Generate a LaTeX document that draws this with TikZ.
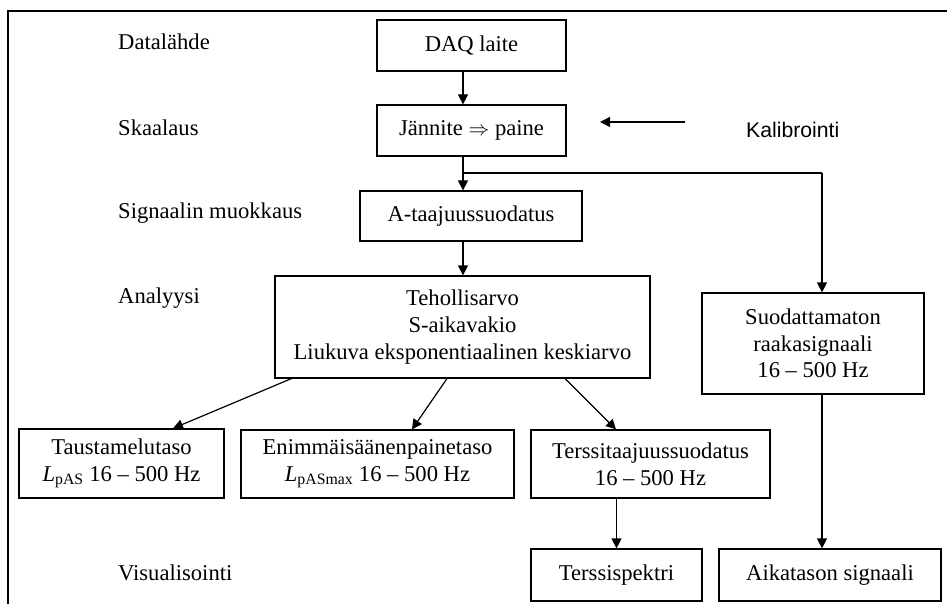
\documentclass[tikz,border=0pt]{standalone}
\usepackage{fontspec}
\setmainfont{Liberation Serif}
\newfontfamily\kalfont{Liberation Sans}
\usetikzlibrary{arrows.meta,positioning}

\begin{document}
\begin{tikzpicture}[x=1pt,y=-1pt,
  box/.style={draw,line width=1.2pt,inner sep=0pt,align=center,
    font=\fontsize{22.6}{26.7}\selectfont},
  lbl/.style={anchor=west,inner sep=0pt,font=\fontsize{22.6}{26.7}\selectfont},
  arr/.style={line width=1.2pt,-{Triangle[length=10pt,width=10pt]}}]
\useasboundingbox (0,0) rectangle (947,604);
\draw[line width=2.5pt] (8,604) -- (8,11) -- (947,11);

% vasen sarake
\node[lbl] (dl) at (118,42) {Datalähde};
\node[lbl] (sk) at (118,128) {Skaalaus};
\node[lbl] (sm) at (118,213) {Signaalin muokkaus};
\node[lbl] (an) at (118,298) {Analyysi};
\node[lbl] (vi) at (118,573) {Visualisointi};

% laatikot
\node[box,minimum width=189pt,minimum height=51pt] (daq) at (471.5,45.5) {DAQ laite};
\node[box,minimum width=189pt,minimum height=51pt] (jann) at (471.5,130.5) {Jännite $\Rightarrow$ paine};
\node[box,minimum width=222pt,minimum height=50pt] (ataaj) at (471,216) {A-taajuussuodatus};
\node[box,minimum width=375pt,minimum height=102pt] (anal) at (462.5,327)
  {Tehollisarvo\\S-aikavakio\\Liukuva eksponentiaalinen keskiarvo};
\node[box,minimum width=222pt,minimum height=101pt] (suod) at (813,343.5)
  {Suodattamaton\\raakasignaali\\16 – 500 Hz};
\node[box,minimum width=205pt,minimum height=69pt] (taus) at (121.5,463.5)
  {Taustamelutaso\\\textit{L}\textsubscript{pAS} 16 – 500 Hz};
\node[box,minimum width=273pt,minimum height=68pt] (enim) at (377.5,464)
  {Enimmäisäänenpainetaso\\\textit{L}\textsubscript{pASmax} 16 – 500 Hz};
\node[box,minimum width=239pt,minimum height=68pt] (ters) at (650.5,464)
  {Terssitaajuussuodatus\\16 – 500 Hz};
\node[box,minimum width=171pt,minimum height=52pt] (tspek) at (616.5,575) {Terssispektri};
\node[box,minimum width=222pt,minimum height=52pt] (aika) at (830,575) {Aikatason signaali};

\node[inner sep=0pt,anchor=west,font=\kalfont\fontsize{21.2}{25}\selectfont] (kal) at (746,130) {Kalibrointi};
\coordinate (kalin) at (685,122);
\coordinate (kalout) at (600,122);
\coordinate (haara) at (463,173);
\coordinate (oik) at (822,173);

% yhteydet
\draw[arr] (haara |- daq.south) -- (haara |- jann.north);
\draw[arr] (kalin) -- (kalout);
\draw[line width=1.2pt] (haara |- jann.south) -- (haara) -- (oik);
\draw[arr] (haara) -- (haara |- ataaj.north);
\draw[arr] (oik) -- (oik |- suod.north);
\draw[arr] (haara |- ataaj.south) -- (haara |- anal.north);
\draw[arr] ([xshift=17pt]anal.south west) -- ([xshift=51.5pt]taus.north);
\draw[arr] ([xshift=-15.5pt]anal.south) -- ([xshift=34.5pt]enim.north);
\draw[arr] ([xshift=102.5pt]anal.south) -- ([xshift=-34.5pt]ters.north);
\draw[arr] (tspek.north |- ters.south) -- (tspek.north);
\draw[arr] (oik |- suod.south) -- (oik |- aika.north);
\end{tikzpicture}
\end{document}
